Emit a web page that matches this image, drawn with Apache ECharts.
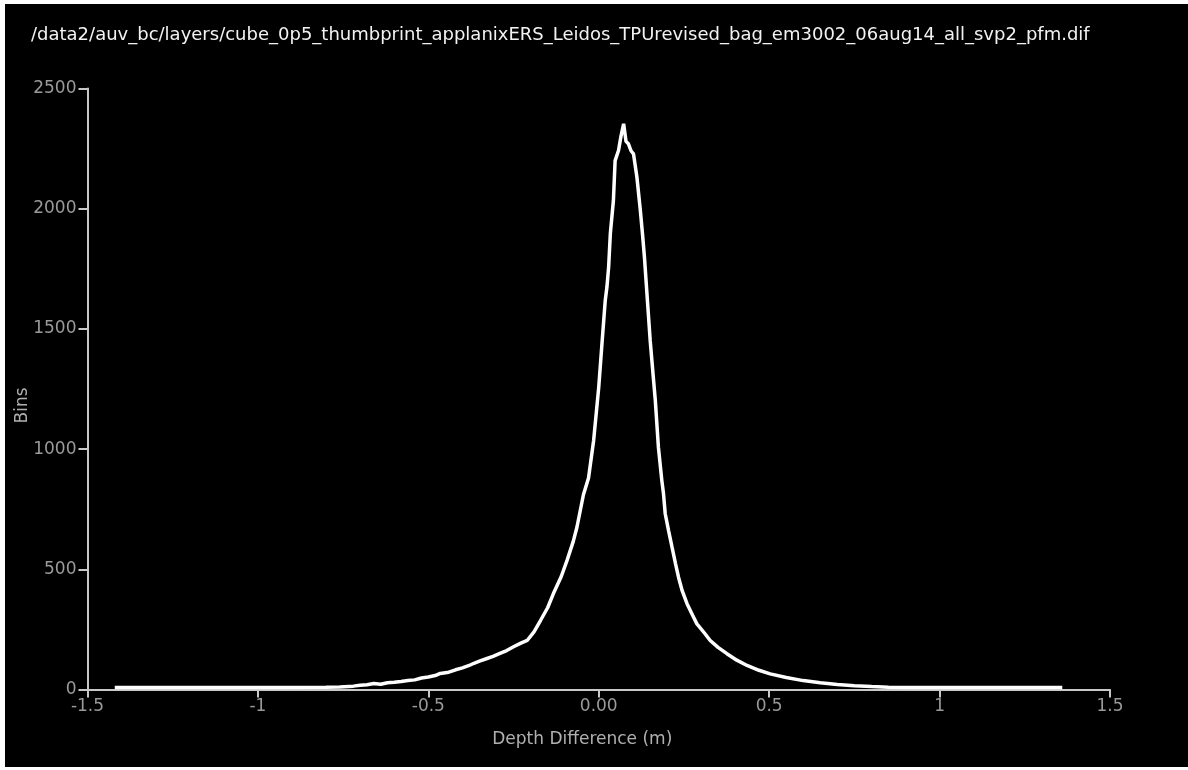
<!DOCTYPE html>
<html>
<head>
<meta charset="utf-8">
<script src="https://cdn.jsdelivr.net/npm/echarts@6/dist/echarts.min.js"></script>
<style>
  html, body { margin: 0; padding: 0; background: #ffffff; width: 1188px; height: 770px; overflow: hidden; }
  #chart { position: absolute; left: 5px; top: 4px; width: 1183px; height: 763px; background: #000000; }
</style>
</head>
<body>
<div id="chart"></div>
<script>
// Chart text
const chartTitle = '/data2/auv_bc/layers/cube_0p5_thumbprint_applanixERS_Leidos_TPUrevised_bag_em3002_06aug14_all_svp2_pfm.dif';
const xAxisName = 'Depth Difference (m)';
const yAxisName = 'Bins';

// Tick labels
const xTickLabels = ['-1.5', '-1', '-0.5', '0.00', '0.5', '1', '1.5'];
const yTickLabels = ['0', '500', '1000', '1500', '2000', '2500'];

// Histogram: depth difference (m) and bin counts
const depthDiff = [
  -1.42, -1.30, -1.20, -1.10, -1.00, -0.90, -0.80, -0.76, -0.72, -0.70,
  -0.68, -0.66, -0.64, -0.62, -0.60, -0.58, -0.56, -0.54, -0.52, -0.50,
  -0.48, -0.465, -0.44, -0.42, -0.40, -0.38, -0.368, -0.35, -0.33, -0.31,
  -0.29, -0.27, -0.25, -0.23, -0.21, -0.19, -0.171, -0.15, -0.133, -0.11,
  -0.093, -0.075, -0.064, -0.045, -0.03, -0.015, 0.0, 0.009, 0.019, 0.024,
  0.029, 0.034, 0.043, 0.048, 0.058, 0.065, 0.073, 0.080, 0.087, 0.095,
  0.102, 0.112, 0.122, 0.128, 0.134, 0.141, 0.151, 0.160, 0.166, 0.175,
  0.185, 0.190, 0.195, 0.205, 0.215, 0.225, 0.234, 0.245, 0.259, 0.275,
  0.288, 0.31, 0.327, 0.35, 0.376, 0.405, 0.435, 0.47, 0.503, 0.55,
  0.60, 0.65, 0.70, 0.75, 0.80, 0.85, 0.90, 1.00, 1.10, 1.20,
  1.30, 1.36
];
const binCounts = [
  8, 8, 8, 8, 8, 8, 9, 10, 14, 18,
  20, 25, 22, 28, 30, 33, 37, 40, 48, 52,
  58, 67, 72, 82, 90, 100, 108, 118, 128, 138,
  150, 162, 178, 192, 204, 240, 287, 340, 399, 470,
  537, 615, 675, 810, 880, 1036, 1258, 1430, 1618, 1674,
  1757, 1896, 2034, 2200, 2242, 2300, 2353, 2280, 2270, 2240,
  2228, 2131, 1993, 1900, 1800, 1655, 1450, 1300, 1202, 1008,
  870, 814, 731, 660, 592, 525, 467, 410, 357, 310,
  273, 235, 204, 175, 149, 122, 100, 80, 65, 50,
  37, 28, 21, 16, 12, 9, 8, 8, 8, 8,
  8, 8
];

const seriesData = depthDiff.map((x, i) => [x, binCounts[i]]);
const fontFamily = 'DejaVu Sans';

const chart = echarts.init(document.getElementById('chart'), null, { renderer: 'canvas' });
chart.setOption({
  backgroundColor: '#000000',
  animation: false,
  title: {
    text: chartTitle,
    left: 21,
    top: 17,
    textStyle: { color: '#f2f2f2', fontSize: 18, fontWeight: 'normal', fontFamily: fontFamily }
  },
  grid: { left: 82.5, top: 84.5, width: 1022.5, height: 601, containLabel: false, outerBoundsMode: 'none' },
  xAxis: {
    type: 'value',
    min: -1.5,
    max: 1.5,
    interval: 0.5,
    name: xAxisName,
    nameLocation: 'middle',
    nameGap: 42,
    nameMoveOverlap: false,
    nameTextStyle: { color: '#b0b0b0', fontSize: 17, fontFamily: fontFamily, padding: [0, 33, 0, 0] },
    axisLine: { show: true, onZero: false, lineStyle: { color: '#c8c8c8', width: 2 } },
    axisTick: { show: true, length: 8, inside: false, lineStyle: { color: '#c8c8c8', width: 2 } },
    axisLabel: {
      color: '#9a9a9a', fontSize: 17, fontFamily: fontFamily, margin: 9,
      formatter: function (v) { return xTickLabels[Math.round((v + 1.5) / 0.5)]; }
    },
    splitLine: { show: false }
  },
  yAxis: {
    type: 'value',
    min: 0,
    max: 2500,
    interval: 500,
    name: yAxisName,
    nameLocation: 'middle',
    nameGap: 56,
    nameMoveOverlap: false,
    nameTextStyle: { color: '#b0b0b0', fontSize: 17, fontFamily: fontFamily, padding: [0, 33, 0, 0] },
    axisLine: { show: true, onZero: false, lineStyle: { color: '#c8c8c8', width: 2 } },
    axisTick: { show: true, length: 9, inside: false, lineStyle: { color: '#c8c8c8', width: 2 } },
    axisLabel: {
      color: '#9a9a9a', fontSize: 17, fontFamily: fontFamily, margin: 11,
      formatter: function (v) { return yTickLabels[Math.round(v / 500)]; }
    },
    splitLine: { show: false }
  },
  series: [{
    type: 'line',
    data: seriesData,
    showSymbol: false,
    lineStyle: { color: '#ffffff', width: 3.5 },
    itemStyle: { color: '#ffffff' }
  }]
});
</script>
</body>
</html>
